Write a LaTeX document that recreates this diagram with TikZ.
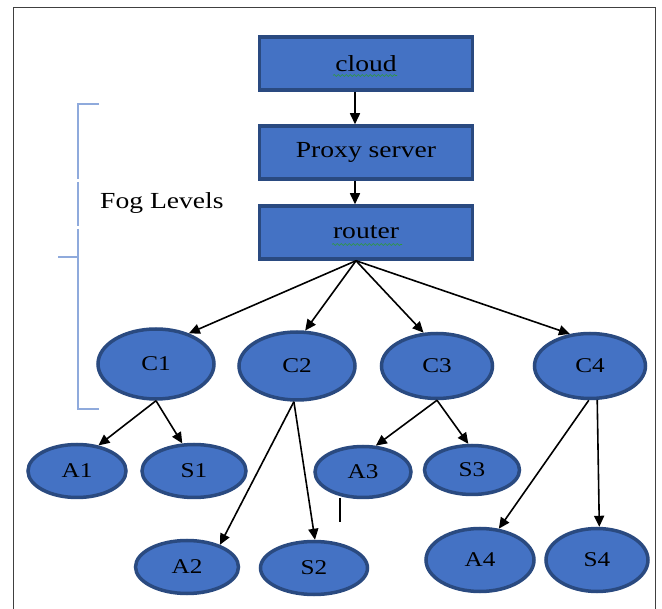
\documentclass[tikz,border=0pt]{standalone}
\usepackage{fontspec}
\setmainfont{Liberation Serif}[FakeStretch=1.2]
\usetikzlibrary{arrows.meta,shapes.geometric,decorations.pathmorphing}
\definecolor{nodeblue}{HTML}{4472C4}
\definecolor{rimblue}{HTML}{2A4A80}
\definecolor{bracketblue}{HTML}{8FAADC}
\definecolor{spellgreen}{HTML}{2E9A3A}

\begin{document}
\begin{tikzpicture}[x=1pt,y=-1pt,
    fogbox/.style={rectangle,draw=rimblue,fill=nodeblue,line width=3.5pt,minimum width=213pt,minimum height=53pt,inner sep=0pt,font=\fontsize{23}{25}\selectfont},
    oval/.style 2 args={ellipse,draw=rimblue,fill=nodeblue,line width=3.5pt,minimum width=#1,minimum height=#2,inner sep=0pt,font=\fontsize{21}{23}\selectfont},
    arr/.style={line width=1.6pt,-{Triangle[length=11pt,width=10pt]}},
    bracket/.style={draw=bracketblue,line width=1.5pt},
    spell/.style={draw=spellgreen,line width=0.6pt,decorate,decoration={snake,segment length=4pt,amplitude=1pt}}]
  \useasboundingbox (0,0) rectangle (662,609);
  % page frame, open at the bottom
  \draw[line width=1pt,black!75] (13,620) -- (13,8) -- (655,8) -- (655,620);

  % upper chain
  \node[fogbox](cloud) at (366,63.5){cloud};
  \node[fogbox](proxy) at (366,152.5){Proxy server};
  \node[fogbox](router) at (366,232.5){router};
  \draw[spell] ([xshift=-33pt,yshift=-12pt]cloud.center) -- ([xshift=31pt,yshift=-12pt]cloud.center);
  \draw[spell] ([xshift=-34pt,yshift=-12pt]router.center) -- ([xshift=36pt,yshift=-12pt]router.center);

  % fog level bracket
  \draw[bracket] (99,104) -- (78,104) -- (78,179);
  \draw[bracket] (78,182) -- (78,226);
  \draw[bracket] (78,229) -- (78,409) -- (99,409);
  \draw[bracket] (58,257) -- (78,257);
  \node[anchor=west,inner sep=0pt,font=\fontsize{23}{25}\selectfont](foglevels) at (100,203){Fog Levels};

  % fog nodes
  \node[oval={116pt}{70pt}](c1) at (156,364){C1};
  \node[oval={116pt}{68pt}](c2) at (297,366){C2};
  \node[oval={111pt}{65pt}](c3) at (437,366){C3};
  \node[oval={111pt}{65pt}](c4) at (590,366){C4};

  % end devices
  \node[oval={98pt}{53pt}](a1) at (77,471){A1};
  \node[oval={104pt}{53pt}](s1) at (194,471){S1};
  \node[oval={103pt}{53pt}](a2) at (187,567){A2};
  \node[oval={107pt}{53pt}](s2) at (314,568){S2};
  \node[oval={96pt}{51pt}](a3) at (363,472){A3};
  \node[oval={95pt}{49pt}](s3) at (472,470){S3};
  \node[oval={108pt}{63pt}](a4) at (480,560){A4};
  \node[oval={102pt}{63pt}](s4) at (597,560){S4};
  \draw[line width=1.6pt] (340,498) -- (340,522);

  % connections
  \draw[arr] ([xshift=-11pt]cloud.south) -- ([xshift=-11pt]proxy.north);
  \draw[arr] ([xshift=-11pt]proxy.south) -- ([xshift=-11pt]router.north);
  \coordinate (hub) at ([xshift=-10pt]router.south);
  \draw[arr] (hub) -- (c1.43);
  \draw[arr] (hub) -- (c2.77);
  \draw[arr] (hub) -- (c3.112);
  \draw[arr] (hub) -- (c4.122);
  \draw[arr] (c1.south) -- (a1.50);
  \draw[arr] (c1.south) -- (s1.113);
  \draw[arr] (c2.-95) -- (a2.34);
  \draw[arr] (c2.-95) -- (s2.88);
  \draw[arr] (c3.south) -- (a3.64);
  \draw[arr] (c3.south) -- (s3.98);
  \draw[arr] (c4.-92) -- (a4.59);
  \draw[arr] (c4.-78) -- (s4.86);
\end{tikzpicture}
\end{document}
